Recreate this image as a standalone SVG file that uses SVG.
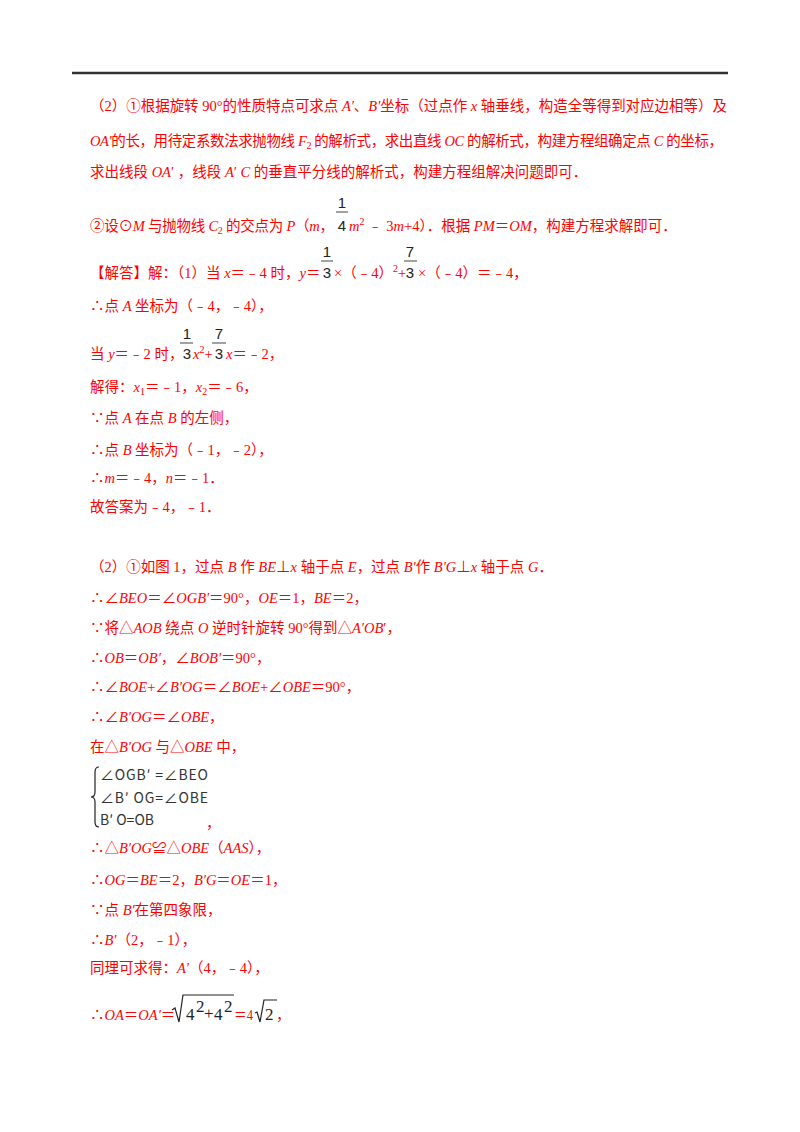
<svg xmlns="http://www.w3.org/2000/svg" width="800" height="1132" viewBox="0 0 800 1132">
<style>
.t{font-family:"Liberation Serif","Noto Sans CJK SC",serif;font-size:14.5px;fill:#ff0000}
.i{font-style:italic}
.s{font-size:10px}
.f{font-family:"Liberation Sans",Arial,sans-serif;font-size:15px;fill:#222;text-anchor:middle}
.bar{stroke:#444;stroke-width:1}
.g{font-family:"Noto Sans CJK SC","Liberation Serif",serif;font-size:14px;fill:#333}
.m{font-family:"Liberation Serif",serif;font-size:17px;fill:#222}
.rad{fill:none;stroke:#222;stroke-width:1.2}
</style>
<rect width="800" height="1132" fill="#fff"/>
<line x1="72" y1="73" x2="728" y2="73" stroke="#333" stroke-width="2.5"/>

<g id="analysis">
<text class="t" x="90" y="111" textLength="637" lengthAdjust="spacing">（2）①根据旋转 90°的性质特点可求点 <tspan class="i">A'</tspan>、<tspan class="i">B'</tspan>坐标（过点作 <tspan class="i">x</tspan> 轴垂线，构造全等得到对应边相等）及</text>
<text class="t" x="90" y="146" textLength="633" lengthAdjust="spacing"><tspan class="i">OA'</tspan>的长，用待定系数法求抛物线 <tspan class="i">F</tspan><tspan class="s" dy="3">2</tspan><tspan dy="-3"> 的解析式，求出直线 </tspan><tspan class="i">OC</tspan> 的解析式，构建方程组确定点 <tspan class="i">C</tspan> 的坐标，</text>
<text class="t" x="90" y="177">求出线段 <tspan class="i">OA</tspan>′ ，线段 <tspan class="i">A</tspan>′ <tspan class="i">C</tspan> 的垂直平分线的解析式，构建方程组解决问题即可．</text>
<text class="t" x="90" y="231" textLength="244" lengthAdjust="spacing">②设⊙<tspan class="i">M</tspan> 与抛物线 <tspan class="i">C</tspan><tspan class="s" dy="3">2</tspan><tspan dy="-3"> 的交点为 </tspan><tspan class="i">P</tspan>（<tspan class="i">m</tspan>，</text>
<g id="frac-1-4"><text class="f" x="342" y="208">1</text><line class="bar" x1="336" y1="212" x2="348" y2="212"/><text class="f" x="342" y="231">4</text></g>
<text class="t" x="349" y="231"><tspan class="i">m</tspan><tspan class="s" dy="-6">2</tspan><tspan dy="6"> ﹣ 3</tspan><tspan class="i">m</tspan>+4）．根据 <tspan class="i">PM</tspan>＝<tspan class="i">OM</tspan>，构建方程求解即可．</text>
</g>

<g id="solution1">
<text class="t" x="90" y="278">【解答】解：（1）当 <tspan class="i">x</tspan>＝﹣4 时，<tspan class="i">y</tspan>＝</text>
<g id="frac-1-3a"><text class="f" x="327" y="257">1</text><line class="bar" x1="321" y1="261" x2="333" y2="261"/><text class="f" x="327" y="278">3</text></g>
<text class="t" x="334" y="278">×（﹣4）<tspan class="s" dy="-6">2</tspan><tspan dy="6">+</tspan></text>
<g id="frac-7-3a"><text class="f" x="410" y="257">7</text><line class="bar" x1="404" y1="261" x2="417" y2="261"/><text class="f" x="410" y="278">3</text></g>
<text class="t" x="418" y="278">×（﹣4）＝﹣4，</text>
<text class="t" x="90" y="311">∴点 <tspan class="i">A</tspan> 坐标为（﹣4，﹣4），</text>
<text class="t" x="90" y="359">当 <tspan class="i">y</tspan>＝﹣2 时，</text>
<g id="frac-1-3b"><text class="f" x="187" y="339">1</text><line class="bar" x1="180" y1="343" x2="193" y2="343"/><text class="f" x="187" y="359">3</text></g>
<text class="t" x="193" y="359"><tspan class="i">x</tspan><tspan class="s" dy="-6">2</tspan><tspan dy="6">+</tspan></text>
<g id="frac-7-3b"><text class="f" x="219" y="339">7</text><line class="bar" x1="212" y1="343" x2="226" y2="343"/><text class="f" x="219" y="359">3</text></g>
<text class="t" x="226" y="359"><tspan class="i">x</tspan>＝﹣2，</text>
<text class="t" x="90" y="392">解得：<tspan class="i">x</tspan><tspan class="s" dy="3">1</tspan><tspan dy="-3">＝﹣1，</tspan><tspan class="i">x</tspan><tspan class="s" dy="3">2</tspan><tspan dy="-3">＝﹣6，</tspan></text>
<text class="t" x="90" y="423">∵点 <tspan class="i">A</tspan> 在点 <tspan class="i">B</tspan> 的左侧，</text>
<text class="t" x="90" y="455">∴点 <tspan class="i">B</tspan> 坐标为（﹣1，﹣2），</text>
<text class="t" x="90" y="483">∴<tspan class="i">m</tspan>＝﹣4，<tspan class="i">n</tspan>＝﹣1．</text>
<text class="t" x="90" y="512">故答案为﹣4，﹣1．</text>
</g>

<g id="solution2">
<text class="t" x="90" y="572">（2）①如图 1，过点 <tspan class="i">B</tspan> 作 <tspan class="i">BE</tspan>⊥<tspan class="i">x</tspan> 轴于点 <tspan class="i">E</tspan>，过点 <tspan class="i">B'</tspan>作 <tspan class="i">B'G</tspan>⊥<tspan class="i">x</tspan> 轴于点 <tspan class="i">G</tspan>．</text>
<text class="t" x="90" y="603">∴∠<tspan class="i">BEO</tspan>＝∠<tspan class="i">OGB'</tspan>＝90°，<tspan class="i">OE</tspan>＝1，<tspan class="i">BE</tspan>＝2，</text>
<text class="t" x="90" y="633">∵将△<tspan class="i">AOB</tspan> 绕点 <tspan class="i">O</tspan> 逆时针旋转 90°得到△<tspan class="i">A'OB</tspan>′，</text>
<text class="t" x="90" y="663">∴<tspan class="i">OB</tspan>＝<tspan class="i">OB'</tspan>，∠<tspan class="i">BOB'</tspan>＝90°，</text>
<text class="t" x="90" y="692">∴∠<tspan class="i">BOE</tspan>+∠<tspan class="i">B'OG</tspan>＝∠<tspan class="i">BOE</tspan>+∠<tspan class="i">OBE</tspan>＝90°，</text>
<text class="t" x="90" y="722">∴∠<tspan class="i">B'OG</tspan>＝∠<tspan class="i">OBE</tspan>，</text>
<text class="t" x="90" y="752">在△<tspan class="i">B'OG</tspan> 与△<tspan class="i">OBE</tspan> 中，</text>
<g id="system">
<path class="rad" d="M99 767 Q95 767 95 772 L95 792 Q95 797 91 797 Q95 797 95 802 L95 822 Q95 827 99 827"/>
<text class="g" x="100" y="780" textLength="108" lengthAdjust="spacing">∠OGB′ =∠BEO</text>
<text class="g" x="100" y="803" textLength="108" lengthAdjust="spacing">∠B′ OG=∠OBE</text>
<text class="g" x="100" y="825">B′ O=OB</text>
<text class="t" x="206" y="828">，</text>
</g>
<text class="t" x="90" y="853">∴△<tspan class="i">B'OG</tspan>≌△<tspan class="i">OBE</tspan>（<tspan class="i">AAS</tspan>），</text>
<text class="t" x="90" y="885">∴<tspan class="i">OG</tspan>＝<tspan class="i">BE</tspan>＝2，<tspan class="i">B'G</tspan>＝<tspan class="i">OE</tspan>＝1，</text>
<text class="t" x="90" y="915">∵点 <tspan class="i">B'</tspan>在第四象限，</text>
<text class="t" x="90" y="945">∴<tspan class="i">B'</tspan>（2，﹣1），</text>
<text class="t" x="90" y="973">同理可求得：<tspan class="i">A'</tspan>（4，﹣4），</text>
<g id="sqrt-line">
<text class="t" x="90" y="1020">∴<tspan class="i">OA</tspan>＝<tspan class="i">OA'</tspan>＝</text>
<path class="rad" d="M172 1010 L175 1008 L179 1022 L183 995 L234 995"/>
<text class="m" x="186" y="1020">4</text><text class="m" x="196" y="1012" font-size="10">2</text><text class="m" x="204" y="1019" font-size="13">+</text><text class="m" x="214" y="1020">4</text><text class="m" x="224" y="1012" font-size="10">2</text>
<text class="t" x="234" y="1020" textLength="19" lengthAdjust="spacingAndGlyphs">＝4</text>
<path class="rad" d="M255 1013 L257 1012 L260 1022 L264 1000 L277 1000"/>
<text class="m" x="265" y="1020">2</text>
<text class="t" x="276" y="1020">，</text>
</g>
</g>
</svg>
